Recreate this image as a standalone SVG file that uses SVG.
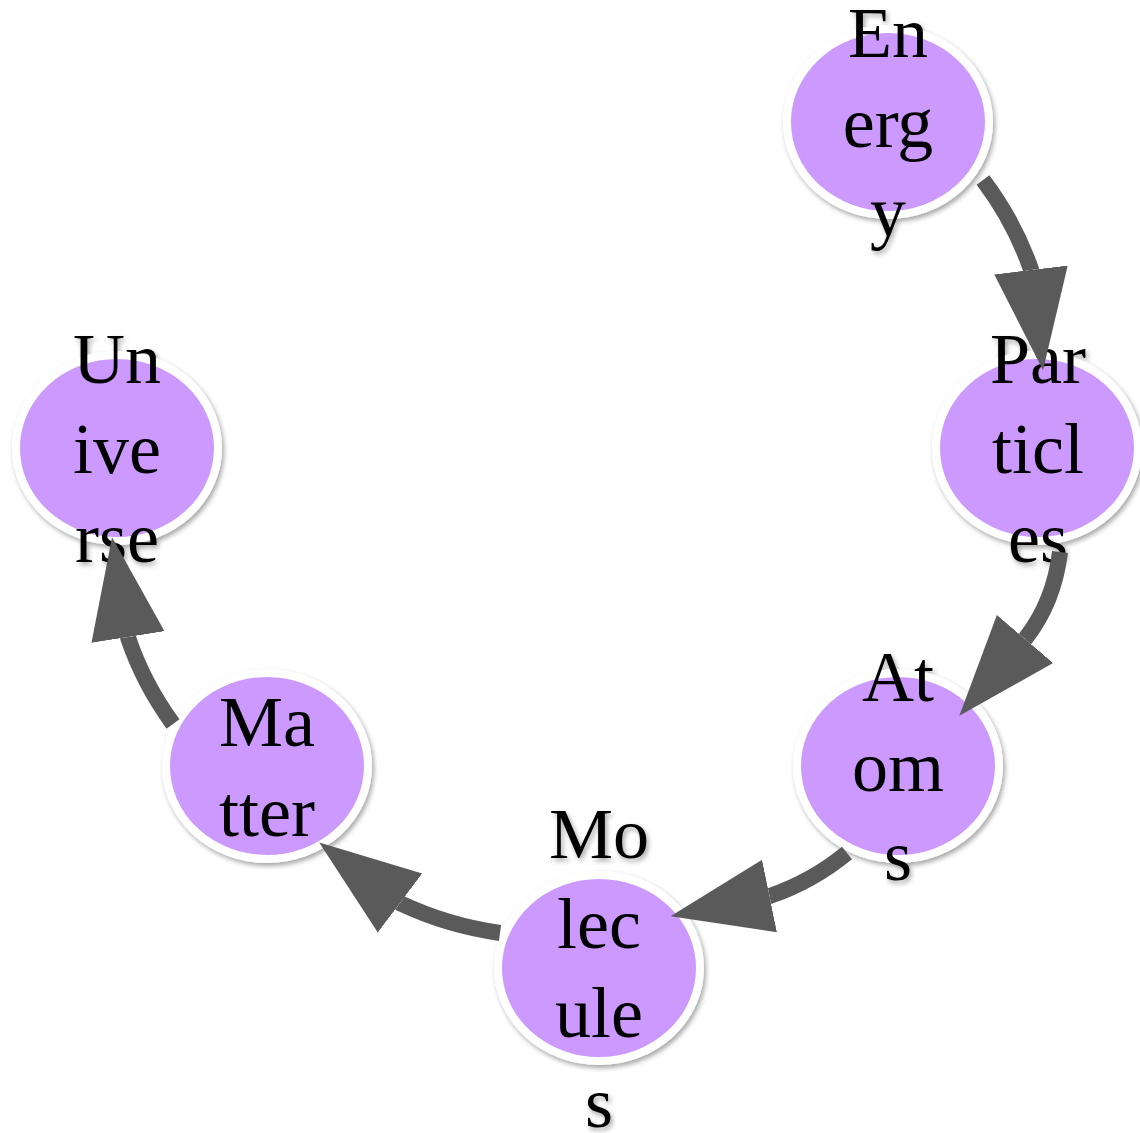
<svg xmlns="http://www.w3.org/2000/svg" width="1140" height="1133" viewBox="0 0 1140 1133">
<defs>
<filter id="sh" x="-20%" y="-20%" width="140%" height="140%">
<feDropShadow dx="2" dy="3" stdDeviation="2.5" flood-color="#000" flood-opacity="0.35"/>
</filter>
<marker id="ah" markerUnits="userSpaceOnUse" markerWidth="110" markerHeight="80" viewBox="0 -40 110 80" refX="0" refY="0" orient="auto">
<path d="M0,-37 L101,0 L0,37 Z" fill="#5a5a5a"/>
</marker>
</defs>
<style>
.node ellipse{fill:#cc99ff;stroke:#ffffff;stroke-width:8}
.node{filter:url(#sh)}
.node text{font-family:"Liberation Serif","Times New Roman",serif;font-size:72px;fill:#000;text-anchor:middle}
.edge{fill:none;stroke:#5a5a5a;stroke-width:16;stroke-linejoin:round;marker-end:url(#ah)}
</style>
<rect width="1140" height="1133" fill="#ffffff"/>
<g id="node-energy" class="node">
<ellipse cx="888" cy="122" rx="101" ry="93"/>
<text x="888" y="57">En</text>
<text x="888" y="146.5">erg</text>
<text x="888" y="236">y</text>
</g>
<g id="node-particles" class="node">
<ellipse cx="1037" cy="448" rx="101" ry="93"/>
<text x="1038" y="383">Par</text>
<text x="1038" y="472.5">ticl</text>
<text x="1038" y="562">es</text>
</g>
<g id="node-atoms" class="node">
<ellipse cx="898" cy="766" rx="101" ry="93"/>
<text x="898" y="701">At</text>
<text x="898" y="790.5">om</text>
<text x="898" y="880">s</text>
</g>
<g id="node-molecules" class="node">
<ellipse cx="599" cy="968" rx="101" ry="93"/>
<text x="599" y="858">Mo</text>
<text x="599" y="947.5">lec</text>
<text x="599" y="1037">ule</text>
<text x="599" y="1126.5">s</text>
</g>
<g id="node-matter" class="node">
<ellipse cx="267" cy="766" rx="101" ry="93"/>
<text x="267" y="746">Ma</text>
<text x="267" y="835.5">tter</text>
</g>
<g id="node-universe" class="node">
<ellipse cx="117" cy="448" rx="101" ry="93"/>
<text x="117" y="383">Un</text>
<text x="117" y="472.5">ive</text>
<text x="117" y="562">rse</text>
</g>
<g id="connectors">
<path class="edge" d="M983,180 Q1014,221 1030.88,269 L1031,270"/>
<path class="edge" d="M1060,552 Q1054,602 1025.65,638.24 L1025,639"/>
<path class="edge" d="M847,853 Q812,881.5 770.48,895.8 L769.5,896"/>
<path class="edge" d="M500,933 Q447.7,925.7 400.8,903.6 L400,903"/>
<path class="edge" d="M173,724 Q143.4,683.2 128.16,638 L128,637"/>
</g>
</svg>
